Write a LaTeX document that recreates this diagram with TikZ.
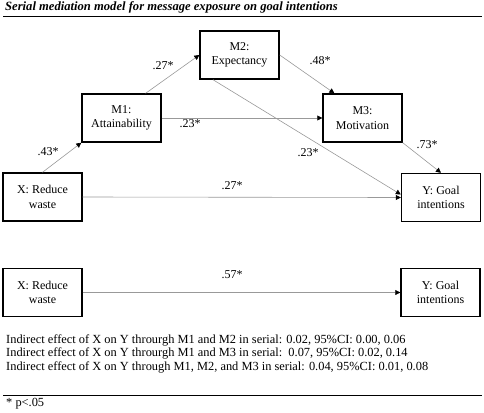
\documentclass[tikz,border=0pt]{standalone}
\usepackage{fontspec}
\setmainfont{Liberation Serif}
\usetikzlibrary{arrows.meta,calc}
\begin{document}
\begin{tikzpicture}[x=1pt,y=-1pt,
  box/.style={draw=black,line width=1.4pt,minimum width=79pt,minimum height=48pt,inner sep=0pt,align=center,font=\fontsize{12}{14.5}\selectfont},
  conn/.style={draw=gray!80,line width=0.6pt,-{Triangle[length=5pt,width=5pt,fill=black,color=black]}},
  lbl/.style={font=\fontsize{12}{14}\selectfont,inner sep=0pt},
  txt/.style={font=\fontsize{12.4}{14}\selectfont,inner sep=0pt,anchor=west}]
\useasboundingbox (0,0) rectangle (484,412);
% title
\node[anchor=base west,inner sep=0pt,font=\fontsize{12.6}{14}\selectfont\bfseries\itshape] (title) at (5,11) {Serial mediation model for message exposure on goal intentions};
\draw[line width=0.9pt] (3,16) -- (482,16);
% boxes
\node[box] (M2) at (239.5,55) {M2:\\Expectancy};
\node[box] (M1) at (121.5,118) {M1:\\Attainability};
\node[box] (M3) at (362.5,118) {M3:\\Motivation};
\node[box] (X) at (42.5,197) {X: Reduce\\waste};
\node[box] (Y) at (441,197.5) {Y: Goal\\intentions};
\node[box] (X2) at (42.5,292.5) {X: Reduce\\waste};
\node[box] (Y2) at (440.5,292.5) {Y: Goal\\intentions};
% connectors
\draw[conn] (X.north) -- (M1.south west);
\draw[conn] ($(M1.north west)!0.8!(M1.north east)$) -- (M2.west);
\draw[conn] (M2.east) -- ($(M3.north west)!0.15!(M3.north east)$);
\draw[conn] ($(M2.south west)!0.17!(M2.south east)$) -- ($(Y.west)+(0,-3)$);
\draw[conn] (M1.east) -- (M3.west);
\draw[conn] (M3.south east) -- (Y.north);
\draw[conn] (X.east) -- (Y.west);
\draw[conn] (X2.east) -- (Y2.west);
% labels
\node[lbl] (l43) at (48,152) {.43*};
\node[lbl] (l27a) at (163,66) {.27*};
\node[lbl] (l48) at (320,61) {.48*};
\node[lbl] (l23a) at (190,124) {.23*};
\node[lbl] (l23b) at (308,153) {.23*};
\node[lbl] (l73) at (427,145) {.73*};
\node[lbl] (l27b) at (232,186) {.27*};
\node[lbl] (l57) at (232,275) {.57*};
% notes
\node[txt] (n1) at (6,340) {Indirect effect of X on Y throurgh M1 and M2 in serial: 0.02, 95\%CI: 0.00, 0.06};
\node[txt] (n2) at (6,353.5) {Indirect effect of X on Y throurgh M1 and M3 in serial:\ \ 0.07, 95\%CI: 0.02, 0.14};
\node[txt] (n3) at (6,367) {Indirect effect of X on Y through M1, M2, and M3 in serial: 0.04, 95\%CI: 0.01, 0.08};
\draw[line width=0.9pt] (3,395.5) -- (482,395.5);
\node[txt] (p) at (6,404) {* p<.05};
\end{tikzpicture}
\end{document}
